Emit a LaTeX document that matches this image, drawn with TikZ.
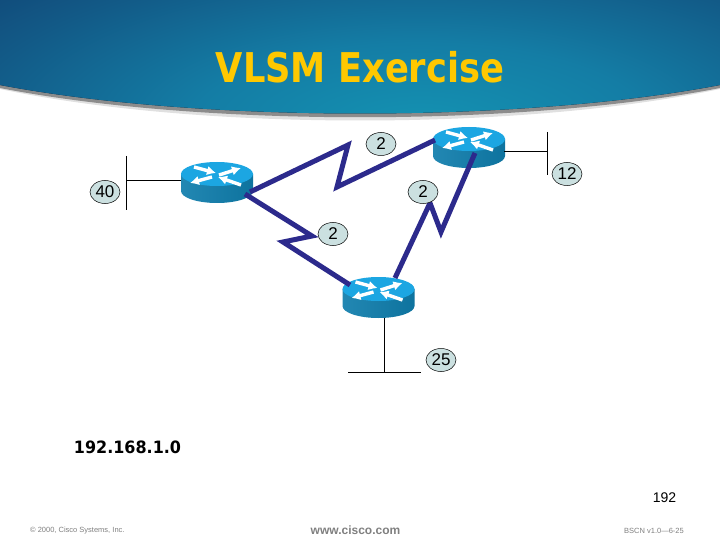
\documentclass[tikz,border=0pt]{standalone}
\usepackage{fontspec}
\setmainfont{Liberation Sans}
\newfontfamily\titlefont{DejaVu Sans}
\usetikzlibrary{arrows.meta,shapes.geometric}
\definecolor{serialblue}{HTML}{2C2A8C}
\definecolor{labelfill}{HTML}{CBE0E0}
\definecolor{routertop}{HTML}{1CA6E2}
\definecolor{routerside}{HTML}{0F7DAC}
\definecolor{footgray}{HTML}{808080}
\definecolor{titlegold}{HTML}{FFC800}
\definecolor{bandA}{HTML}{1492B2}
\definecolor{bandB}{HTML}{147DA5}
\definecolor{bandC}{HTML}{125A87}
\definecolor{bandD}{HTML}{103A6C}
\definecolor{bandE}{HTML}{0A2850}
\definecolor{bandF}{HTML}{031228}
\pgfdeclareradialshading{bandshade}{\pgfpoint{0bp}{0bp}}{%
 color(0bp)=(bandA);
 color(10bp)=(bandB);
 color(20bp)=(bandC);
 color(30bp)=(bandD);
 color(39bp)=(bandE);
 color(50bp)=(bandF)}
\tikzset{
 routerbox/.style={minimum width=72pt,minimum height=41pt,inner sep=0pt,outer sep=0pt},
 serial/.style={draw=serialblue,line width=5pt,miter limit=10},
 lan/.style={draw=black,line width=0.9pt},
 cnt/.style={ellipse,draw=black,line width=0.5pt,fill=labelfill,minimum width=30pt,minimum height=23pt,inner sep=0pt,font=\fontsize{17}{17}\selectfont},
 rarrow/.style={draw=white,line width=3.4pt,-{Latex[length=9pt,width=9.5pt]}},
 foot/.style={inner sep=0pt,text=footgray}
}
\newcommand{\routerat}[3]{%
 \node[routerbox] (#1) at (#2,#3+8.5) {};
 \begin{scope}[shift={(#2,#3)}]
  \shade[left color=routerside!92!white,right color=routerside!92!black]
    (-36,0) -- (-36,17) arc[start angle=180,end angle=0,x radius=36,y radius=12] -- (36,0) -- cycle;
  \fill[routertop] (0,0) ellipse[x radius=36,y radius=12];
  \draw[rarrow] (-23,-7) -- (-1,-1);
  \draw[rarrow] (2,1) -- (24,-6);
  \draw[rarrow] (-5,3) -- (-27,9);
  \draw[rarrow] (24,11) -- (1,3);
 \end{scope}}
\begin{document}
\begin{tikzpicture}[x=1pt,y=-1pt]
\useasboundingbox (0,0) rectangle (720,540);
\fill[white] (0,0) rectangle (720,540);
% soft shadow of the header band
\fill[black!12] (0,89) .. controls (200,131) and (520,131) .. (720,89) -- (720,80) -- (0,80) -- cycle;
\fill[black!45] (0,88) .. controls (200,127) and (520,127) .. (720,88) -- (720,80) -- (0,80) -- cycle;
\begin{scope}
 \clip (0,0) -- (720,0) -- (720,85) .. controls (520,123) and (200,123) .. (0,85) -- cycle;
 \fill[bandF] (0,0) rectangle (720,125);
 \shade[shading=bandshade] (420,125) ellipse[x radius=570,y radius=205];
\end{scope}
\node[inner sep=0pt,text=titlegold,font=\titlefont\bfseries\fontsize{41}{41}\selectfont,xscale=0.86] (title) at (360,67) {VLSM Exercise};

\routerat{r1}{217}{174}
\routerat{r2}{469}{139}
\routerat{r3}{378.5}{289}

% LAN segments
\coordinate (r1w) at (181,180);
\coordinate (l1j) at (126,180);
\coordinate (l1t) at (126,156);
\coordinate (l1b) at (126,210);
\draw[lan] (r1w) -- (l1j);
\draw[lan] (l1t) -- (l1b);
\coordinate (r2e) at (504,151);
\coordinate (l2j) at (547,151);
\coordinate (l2t) at (547,132);
\coordinate (l2b) at (547,175);
\draw[lan] (r2e) -- (l2j);
\draw[lan] (l2t) -- (l2b);
\coordinate (r3s) at (384,318);
\coordinate (l3j) at (384,372);
\coordinate (l3l) at (348,372);
\coordinate (l3r) at (421,372);
\draw[lan] (r3s) -- (l3j);
\draw[lan] (l3l) -- (l3r);

% serial links
\coordinate (a1) at (435,140);
\coordinate (a2) at (337,187);
\coordinate (a3) at (348,145);
\coordinate (a4) at (250,192);
\draw[serial] (a1) -- (a2) -- (a3) -- (a4);
\coordinate (b1) at (475,153);
\coordinate (b2) at (441,232);
\coordinate (b3) at (430,203);
\coordinate (b4) at (395,278);
\draw[serial] (b1) -- (b2) -- (b3) -- (b4);
\coordinate (c1) at (245,194);
\coordinate (c2) at (312,236);
\coordinate (c3) at (283,242);
\coordinate (c4) at (350,285);
\draw[serial] (c1) -- (c2) -- (c3) -- (c4);

% labels
\node[cnt] (n40) at (105,192) {40};
\node[cnt] (n2a) at (381,144) {2};
\node[cnt] (n12) at (567,174) {12};
\node[cnt] (n2b) at (423,192) {2};
\node[cnt] (n2c) at (333,234) {2};
\node[cnt] (n25) at (441,360) {25};

\node[inner sep=0pt,font=\titlefont\bfseries\fontsize{17}{17}\selectfont,xscale=0.94] (net) at (127.5,447) {192.168.1.0};
\node[inner sep=0pt,font=\fontsize{14}{14}\selectfont] (hosts) at (664.5,498) {192};
\node[foot,anchor=west,font=\fontsize{7.5}{8}\selectfont] (copy) at (30,531) {© 2000, Cisco Systems, Inc.};
\node[foot,font=\bfseries\fontsize{12}{12}\selectfont] (www) at (355.5,530) {www.cisco.com};
\node[foot,anchor=east,font=\fontsize{7.5}{8}\selectfont] (code) at (684,531) {BSCN v1.0—6-25};
\end{tikzpicture}
\end{document}
